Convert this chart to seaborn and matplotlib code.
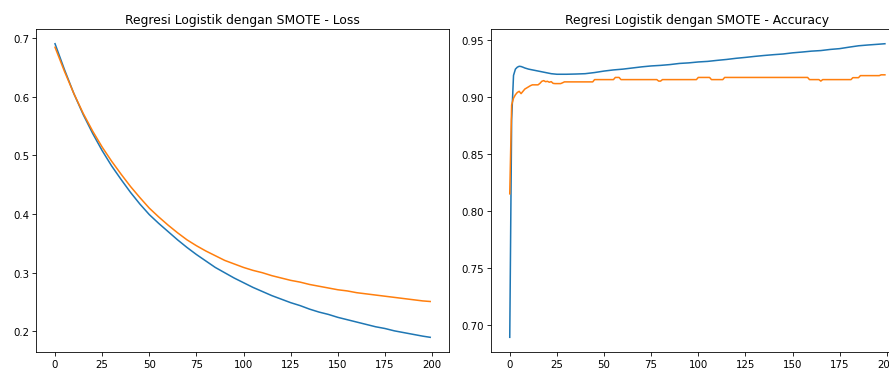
import numpy as np
import pandas as pd
import matplotlib
matplotlib.use('Agg')
import matplotlib.pyplot as plt
import seaborn as sns

# Loss per epoch (read every 5 epochs from the picture)
loss_epochs = [0, 5, 10, 15, 20, 25, 30, 35, 40, 45, 50, 55, 60, 65, 70, 75, 80, 85, 90, 95,
               100, 105, 110, 115, 120, 125, 130, 135, 140, 145, 150, 155, 160, 165, 170, 175,
               180, 185, 190, 195, 199]
loss_train = [0.690, 0.646, 0.605, 0.569, 0.537, 0.508, 0.482, 0.459, 0.437, 0.417, 0.399,
              0.384, 0.370, 0.356, 0.343, 0.331, 0.320, 0.309, 0.300, 0.291, 0.283, 0.275,
              0.268, 0.261, 0.255, 0.249, 0.244, 0.238, 0.233, 0.229, 0.224, 0.220, 0.216,
              0.212, 0.208, 0.205, 0.201, 0.198, 0.195, 0.192, 0.190]
loss_val = [0.684, 0.643, 0.605, 0.571, 0.541, 0.514, 0.490, 0.468, 0.447, 0.428, 0.410,
            0.395, 0.381, 0.368, 0.356, 0.346, 0.337, 0.329, 0.321, 0.315, 0.309, 0.304,
            0.300, 0.295, 0.291, 0.287, 0.284, 0.280, 0.277, 0.274, 0.271, 0.269, 0.266,
            0.264, 0.262, 0.260, 0.258, 0.256, 0.254, 0.252, 0.251]

# Accuracy (train, blue)
acc_train_epochs = [0, 1, 2, 3, 4, 5, 6, 7, 8, 10, 13, 16, 19, 22, 25, 30, 35, 40, 45, 50, 55,
                    60, 65, 70, 75, 80, 85, 90, 95, 100, 105, 110, 115, 120, 125, 130, 135,
                    140, 145, 150, 155, 160, 165, 170, 175, 180, 185, 190, 195, 199]
acc_train = [0.689, 0.880, 0.919, 0.9245, 0.9262, 0.927, 0.9268, 0.9262, 0.9255, 0.9245,
             0.9235, 0.9225, 0.9215, 0.9205, 0.9200, 0.9200, 0.9202, 0.9205, 0.9215, 0.9228,
             0.9238, 0.9245, 0.9255, 0.9265, 0.9273, 0.9278, 0.9285, 0.9295, 0.9300, 0.9308,
             0.9313, 0.9322, 0.9330, 0.9340, 0.9348, 0.9357, 0.9365, 0.9372, 0.9378, 0.9388,
             0.9395, 0.9403, 0.9408, 0.9418, 0.9425, 0.9438, 0.9450, 0.9457, 0.9463, 0.9468]

# Accuracy (validation, orange) - change points only
acc_val_epochs = [0, 1, 2, 3, 4, 5, 6, 7, 8, 9, 10, 11, 12, 15, 16, 17, 18, 19, 20, 21, 22,
                  23, 24, 27, 28, 29, 44, 45, 55, 56, 58, 59, 78, 79, 80, 81, 99, 100, 106,
                  107, 113, 114, 158, 159, 164, 165, 166, 181, 182, 185, 186, 196, 197, 199]
acc_val = [0.815, 0.893, 0.899, 0.902, 0.904, 0.905, 0.903, 0.905, 0.907, 0.908, 0.909,
           0.910, 0.9107, 0.9107, 0.912, 0.9138, 0.9144, 0.9135, 0.9138, 0.913, 0.9135,
           0.912, 0.9118, 0.9118, 0.9125, 0.9133, 0.9133, 0.9153, 0.9153, 0.9172, 0.9172,
           0.9153, 0.9153, 0.914, 0.914, 0.9153, 0.9153, 0.9172, 0.9172, 0.9153, 0.9153,
           0.9172, 0.9172, 0.9153, 0.9153, 0.914, 0.9153, 0.9153, 0.917, 0.917, 0.9188,
           0.9188, 0.9195, 0.9195]

blue = '#1f77b4'
orange = '#ff7f0e'

fig = plt.figure(figsize=(12, 4.98), dpi=889 / 12)
ax1 = fig.add_axes([0.0408, 0.0434, 0.4642, 0.8753])
ax2 = fig.add_axes([0.5523, 0.0434, 0.4642, 0.8753])

sns.lineplot(x=loss_epochs, y=loss_train, color=blue, lw=1.5, ax=ax1)
sns.lineplot(x=loss_epochs, y=loss_val, color=orange, lw=1.5, ax=ax1)
ax1.set_title('Regresi Logistik dengan SMOTE - Loss')

sns.lineplot(x=acc_train_epochs, y=acc_train, color=blue, lw=1.5, ax=ax2)
sns.lineplot(x=acc_val_epochs, y=acc_val, color=orange, lw=1.5, ax=ax2)
ax2.set_title('Regresi Logistik dengan SMOTE - Accuracy')

for ax in (ax1, ax2):
    ax.set_xticks([0, 25, 50, 75, 100, 125, 150, 175, 200])
    ax.set_xlim(-9.95, 208.95)

fig.savefig('out.png', dpi=889 / 12)
